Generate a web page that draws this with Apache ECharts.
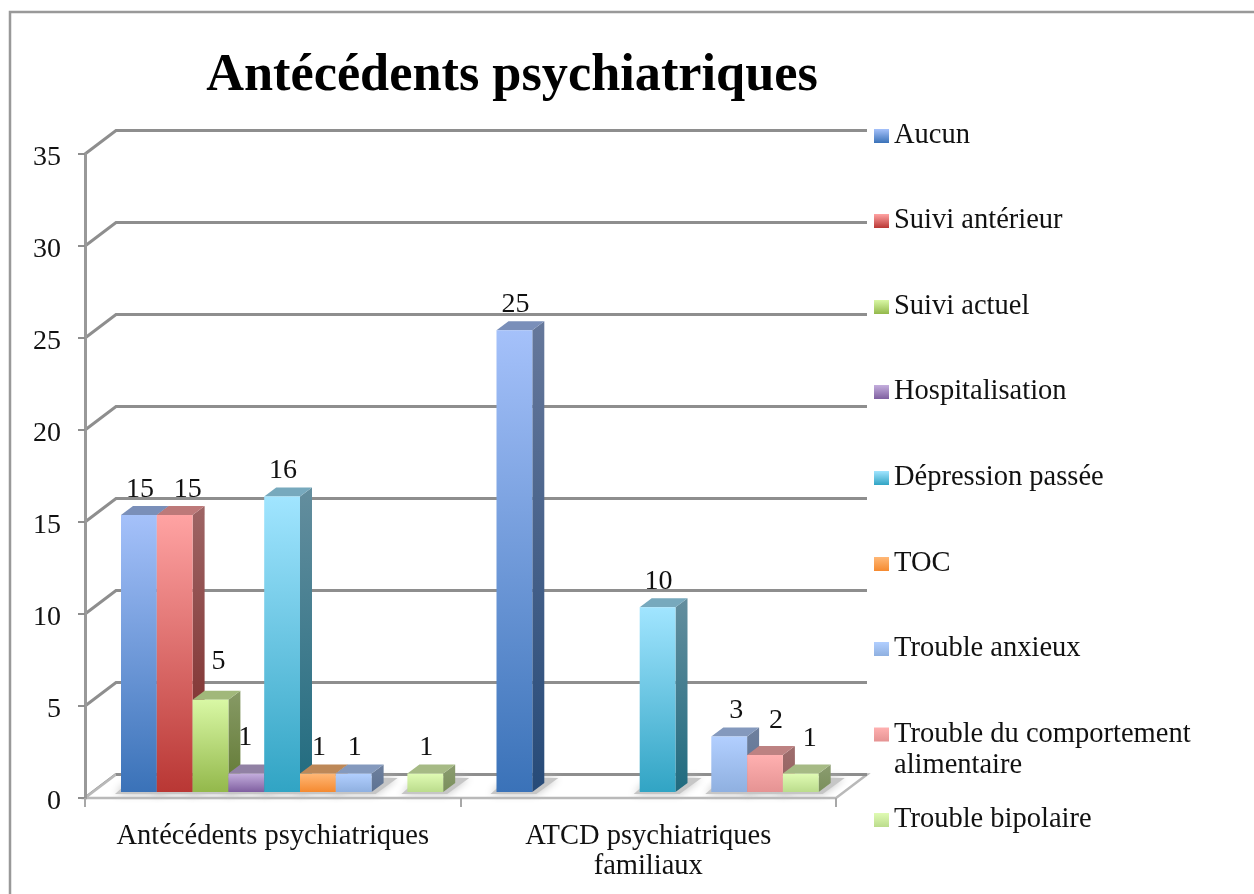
<!DOCTYPE html>
<html><head><meta charset="utf-8">
<style>html,body{margin:0;padding:0;background:#fff}#c{width:1254px;height:894px}</style>
<script src="https://cdn.jsdelivr.net/npm/echarts@6/dist/echarts.min.js"></script>
</head><body><div id="c"></div>
<script>
const titleText = 'Antécédents psychiatriques';
const categories = ['Antécédents psychiatriques', 'ATCD psychiatriques\nfamiliaux'];
const seriesNames = ['Aucun','Suivi antérieur','Suivi actuel','Hospitalisation','Dépression passée','TOC','Trouble anxieux','Trouble du comportement\nalimentaire','Trouble bipolaire'];
const aucun = [15, 25];
const suiviAnterieur = [15, null];
const suiviActuel = [5, null];
const hospitalisation = [1, null];
const depressionPassee = [16, 10];
const toc = [1, null];
const troubleAnxieux = [1, 3];
const troubleAlimentaire = [null, 2];
const troubleBipolaire = [1, 1];
const seriesValues = [aucun,suiviAnterieur,suiviActuel,hospitalisation,depressionPassee,toc,troubleAnxieux,troubleAlimentaire,troubleBipolaire];
const yTicks = [0,5,10,15,20,25,30,35];

const faceTop = ['#A5C1FA','#FFA3A3','#D9F8A5','#C4AEDD','#A1E5FF','#FFB877','#B2CFFF','#FFB0B0','#E0FBB4'];
const faceBottom = ['#3A72B8','#B93734','#93B84B','#7F5FA0','#31A4C4','#F58A30','#8FB0E0','#E59393','#BBDC8C'];
// hand placement of value labels, as in the original: [series][category] -> [dx, dy]
const labelNudge = {
  '1,0':[12,0],'2,0':[7,-12],'3,0':[-2,-10],'6,1':[6,0],'7,1':[10,-9],'8,1':[8,-9]
};
const legendCentres = [136,221,307,392,478,564,649,734,820];

const FONT = '"Liberation Serif", serif';
const DX = 31, DY = -23.5, BDX = 12, BDY = -9, BASE = 6, BAR_FRAC = 35.8/375.5, FIRST = 36/375.5;
const GRID = {left:85, top:154, width:751, height:644};
const AXIS_GREY = '#8e8e8e';

function grad(a,b){return {type:'linear',x:0,y:0,x2:0,y2:1,colorStops:[{offset:0,color:a},{offset:1,color:b}]};}
function shade(hex,f){const n=parseInt(hex.slice(1),16);const c=s=>Math.round(((n>>s)&255)*f);return 'rgb('+c(16)+','+c(8)+','+c(0)+')';}
function barBox(api,si,cat,val){
  const band = api.size([1,0])[0];
  const c0 = api.coord([cat,0]);
  const cv = api.coord([cat,val]);
  const w = band*BAR_FRAC;
  const x = c0[0]-band/2+band*FIRST+si*w;
  const yb = c0[1]-BASE;
  const yt = yb-(c0[1]-cv[1])*1.004;
  return {x,w,yb,yt};
}
const series = [];
// walls: slanted left gridlines and back gridlines
series.push({type:'custom',name:'_walls',silent:true,coordinateSystem:'cartesian2d',clip:false,z:1,
  data:yTicks.map(t=>[0,t]),
  renderItem(p,api){
    const t=api.value(1), c=api.coord([0,t]);
    const band=api.size([1,0])[0];
    const x0=c[0]-band/2, y=c[1];
    return {type:'polyline',shape:{points:[[x0,y],[x0+DX,y+DY],[x0+band*2+DX,y+DY]]},
      style:{stroke:AXIS_GREY,lineWidth:3,fill:null}};
  }});
// floor
series.push({type:'custom',name:'_floor',silent:true,coordinateSystem:'cartesian2d',clip:false,z:1,
  data:[[0,0]],
  renderItem(p,api){
    const c=api.coord([0,0]), band=api.size([1,0])[0];
    const x0=c[0]-band/2, y=c[1], x1=x0+band*2;
    return {type:'group',children:[
      {type:'polygon',shape:{points:[[x0,y],[x0+DX,y+DY],[x1+DX,y+DY],[x1,y]]},style:{fill:'#fff',stroke:'#b9b9b9',lineWidth:2.5}},
      {type:'polyline',shape:{points:[[x0+DX,y+DY],[x1+DX,y+DY]]},style:{stroke:AXIS_GREY,lineWidth:3,fill:null}}
    ]};
  }});
// soft shadows under bars
const shadowData=[];
seriesValues.forEach((vals,si)=>vals.forEach((v,ci)=>{if(v!==null)shadowData.push([ci,v,si]);}));
series.push({type:'custom',name:'_shadow',silent:true,coordinateSystem:'cartesian2d',clip:false,z:2,
  data:shadowData,
  renderItem(p,api){
    const b=barBox(api,api.value(2),api.value(0),api.value(1));
    return {type:'polygon',shape:{points:[[b.x-6,b.yb+2],[b.x+b.w+4,b.yb+2],[b.x+b.w+BDX+14,b.yb-14],[b.x+BDX,b.yb-14]]},
      style:{fill:'#c6c6c6',shadowBlur:8,shadowColor:'#c0c0c0'}};
  }});
// one 3D bar series per legend entry
seriesNames.forEach((name,si)=>{
  const data=[];
  seriesValues[si].forEach((v,ci)=>{if(v!==null)data.push([ci,v]);});
  series.push({type:'custom',name,coordinateSystem:'cartesian2d',clip:false,z:3,
    itemStyle:{color:grad(faceTop[si],faceBottom[si])},
    data,encode:{x:0,y:1},
    renderItem(p,api){
      const ci=api.value(0), val=api.value(1);
      const b=barBox(api,si,ci,val);
      const nudge=labelNudge[si+','+ci]||[0,0];
      return {type:'group',children:[
        {type:'polygon',shape:{points:[[b.x+b.w,b.yt],[b.x+b.w+BDX,b.yt+BDY],[b.x+b.w+BDX,b.yb+BDY],[b.x+b.w,b.yb]]},
          style:{fill:grad(shade(faceTop[si],0.62),shade(faceBottom[si],0.65))}},
        {type:'polygon',shape:{points:[[b.x,b.yt],[b.x+BDX,b.yt+BDY],[b.x+b.w+BDX,b.yt+BDY],[b.x+b.w,b.yt]]},
          style:{fill:shade(faceTop[si],0.74)}},
        {type:'rect',shape:{x:b.x,y:b.yt,width:b.w,height:b.yb-b.yt},
          style:{fill:grad(faceTop[si],faceBottom[si])}},
        {type:'text',z2:100,style:{x:b.x+b.w/2+1+nudge[0],y:b.yt-25.5+nudge[1],text:String(val),
          fill:'#111',font:'28px '+FONT,align:'center',verticalAlign:'middle'}}
      ]};
    }});
});
const legends = seriesNames.map((name,i)=>{
  const two = name.indexOf('\n')>=0;
  return {show:true,data:[{name,icon:'rect',itemStyle:{color:grad(faceTop[i],faceBottom[i]),borderWidth:0}}],
    orient:'vertical',left:874,top:legendCentres[i]-(two?46:15),itemWidth:15,itemHeight:14,itemGap:0,
    selectedMode:false,padding:0,
    // the wrapped entry keeps its first line level with the swatch
    formatter:two?(n=>'\n'+n):undefined,
    textStyle:{fontFamily:FONT,fontSize:28.5,color:'#111',lineHeight:two?31:30}};
});
const option = {
  backgroundColor:'#fff',
  animation:false,
  title:{text:titleText,left:512,top:50,textAlign:'center',padding:0,
    textStyle:{fontFamily:FONT,fontSize:52.3,fontWeight:'bold',color:'#000'}},
  grid:{left:GRID.left,top:GRID.top,width:GRID.width,height:GRID.height,containLabel:false},
  legend:legends,
  xAxis:{type:'category',data:categories,boundaryGap:true,z:1,
    axisLine:{show:false},
    axisTick:{show:true,alignWithLabel:false,length:9,lineStyle:{color:'#a8a8a8',width:2}},
    axisLabel:{fontFamily:FONT,fontSize:28.5,color:'#111',margin:24,lineHeight:30,interval:0}},
  yAxis:{type:'value',min:0,max:35,interval:5,z:1,
    axisLine:{show:true,lineStyle:{color:'#999',width:3}},
    axisTick:{show:true,length:7,lineStyle:{color:AXIS_GREY,width:2}},
    splitLine:{show:false},
    axisLabel:{color:'#111',margin:24,formatter:v=>'{t|'+v+'}',
      rich:{t:{fontFamily:FONT,fontSize:28,color:'#111',padding:[7,0,0,0]}}}},
  graphic:[{type:'rect',silent:true,z:-10,shape:{x:10,y:12,width:1400,height:1000},
    style:{fill:'none',stroke:'#999',lineWidth:2.5}}],
  series
};
const chart = echarts.init(document.getElementById('c'),null,{renderer:'canvas'});
chart.setOption(option);
</script></body></html>
